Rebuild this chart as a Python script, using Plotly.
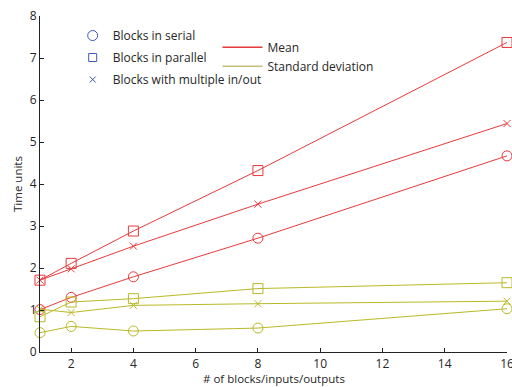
import plotly.graph_objects as go

x = [1, 2, 4, 8, 16]
mean_serial = [1.01, 1.30, 1.79, 2.71, 4.67]
mean_parallel = [1.71, 2.11, 2.88, 4.32, 7.37]
mean_multi = [1.71, 1.98, 2.52, 3.52, 5.44]
std_serial = [0.46, 0.61, 0.50, 0.57, 1.03]
std_parallel = [0.84, 1.19, 1.27, 1.51, 1.65]
std_multi = [1.02, 0.94, 1.11, 1.15, 1.21]

x_title = "# of blocks/inputs/outputs"
y_title = "Time units"

RED = "#e8393b"
OLIVE = "#b9b927"
BLUE = "#3f57b5"
FONT = "Open Sans"

fig = go.Figure()
series = [
    (mean_serial, RED, "circle-open"),
    (mean_parallel, RED, "square-open"),
    (mean_multi, RED, "x-thin-open"),
    (std_serial, OLIVE, "circle-open"),
    (std_parallel, OLIVE, "square-open"),
    (std_multi, OLIVE, "x-thin-open"),
]
for ys, col, sym in series:
    fig.add_trace(go.Scatter(
        x=x, y=ys, mode="lines+markers", showlegend=False, cliponaxis=False,
        line=dict(color=col, width=1),
        marker=dict(symbol=sym, size=10 if sym != "x-thin-open" else 7,
                    color=col, line=dict(color=col, width=1)),
    ))

# legend 1: marker types
for i, (name, sym, sz) in enumerate([("Blocks in serial", "circle-open", 10),
                                     ("Blocks in parallel", "square-open", 8),
                                     ("Blocks with multiple in/out", "x-thin-open", 6)]):
    fig.add_trace(go.Scatter(
        x=[None], y=[None], mode="markers", name=name, legend="legend",
        legendgroup="g%d" % i,
        marker=dict(symbol=sym, size=sz, color=BLUE, line=dict(color=BLUE, width=1)),
    ))
# legend 2: line types
for name, col in [("Mean", RED), ("Standard deviation", "#c4c07a")]:
    fig.add_trace(go.Scatter(
        x=[None], y=[None], mode="lines", name=name, legend="legend2",
        line=dict(color=col, width=1.5),
    ))

axis_common = dict(
    showgrid=False, zeroline=False, showline=True, linecolor="#222222",
    linewidth=1, ticks="inside", ticklen=4, tickcolor="#222222",
    tickfont=dict(family=FONT, size=12, color="#262626"),
    mirror=False, ticklabeloverflow="allow", automargin=False,
)
fig.update_layout(
    width=512, height=387,
    margin=dict(l=40, r=5, t=16, b=35),
    paper_bgcolor="white", plot_bgcolor="white",
    font=dict(family=FONT, size=12, color="#262626"),
    xaxis=dict(range=[1, 16], tickvals=[2, 4, 6, 8, 10, 12, 14, 16],
               ticklabelstandoff=1, **axis_common),
    yaxis=dict(range=[0, 8], tickvals=[0, 1, 2, 3, 4, 5, 6, 7, 8],
               **axis_common),
    annotations=[
        dict(text=x_title, xref="paper", yref="paper", x=0.5, y=0,
             yshift=-26, showarrow=False, font=dict(size=11.5),
             xanchor="center", yanchor="middle"),
        dict(text=y_title, xref="paper", yref="paper", x=0, y=0.5,
             xshift=-23, showarrow=False, font=dict(size=11.5), textangle=-90,
             xanchor="center", yanchor="middle"),
    ],
    legend=dict(x=0.07, y=0.985, xanchor="left", yanchor="top",
                bgcolor="rgba(0,0,0,0)", font=dict(family=FONT, size=12),
                itemwidth=30, tracegroupgap=3),
    legend2=dict(x=0.38, y=0.95, xanchor="left", yanchor="top",
                 bgcolor="rgba(0,0,0,0)", font=dict(family=FONT, size=12),
                 itemwidth=40),
)
fig.write_html("out.html")
